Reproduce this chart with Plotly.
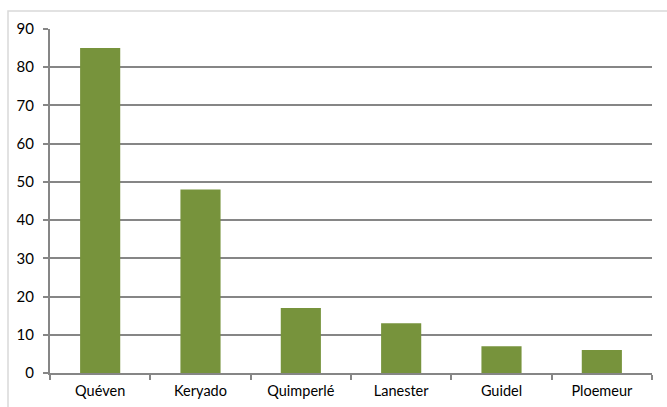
import plotly.graph_objects as go

categories = ["Quéven", "Keryado", "Quimperlé", "Lanester", "Guidel", "Ploemeur"]
values = [85, 48, 17, 13, 7, 6]

W, H = 667, 407
L, R, T, B = 50, 15, 29, 34
pw = W - L - R
ph = H - T - B

fig = go.Figure(go.Bar(x=categories, y=values, marker=dict(color="#77933C", line=dict(width=0)), width=0.4))

def px_x(px):
    return (px - L) / pw

def px_y(py):
    return (H - B - py) / ph

fig.update_layout(
    width=W, height=H,
    margin=dict(l=L, r=R, t=T, b=B, autoexpand=False),
    paper_bgcolor="white", plot_bgcolor="white",
    font=dict(family="Lato, Open Sans, sans-serif", size=15, color="#000000"),
    showlegend=False,
    xaxis=dict(showline=True, linecolor="#868686", linewidth=2, ticks="outside", tickson="boundaries",
               ticklen=5, tickcolor="#868686", tickwidth=1.5, showgrid=False, tickfont=dict(size=14.5),
               ticklabelstandoff=4, automargin=False),
    yaxis=dict(range=[0, 90], dtick=10, showline=True, linecolor="#868686", linewidth=2,
               ticks="outside", ticklen=5, tickcolor="#868686", tickwidth=1.5,
               showgrid=True, gridcolor="#868686", gridwidth=2, zeroline=False,
               tickfont=dict(size=15), ticklabelstandoff=6, automargin=False),
    shapes=[dict(type="rect", xref="paper", yref="paper",
                 x0=px_x(8), x1=px_x(672), y0=px_y(412), y1=px_y(11),
                 line=dict(color="#D9D9D9", width=1.5), layer="below")],
)
fig.write_html("out.html")
